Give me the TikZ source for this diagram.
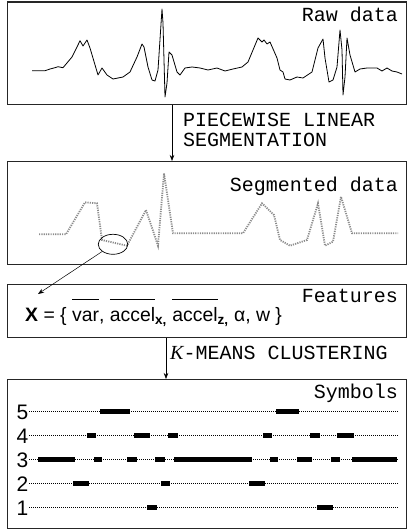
\documentclass[tikz,border=0pt]{standalone}
\usepackage{fontspec}
\setmainfont{Liberation Sans}
\newfontfamily\monofont{Liberation Mono}
\newfontfamily\kfont{Liberation Serif}
\usetikzlibrary{arrows.meta,shapes.geometric}
% averaged quantity: a bar set well above the word
\newcommand{\avgbar}[1]{$\overline{\mbox{#1}\rule{0pt}{21pt}}$}
\begin{document}
\begin{tikzpicture}[x=1pt,y=-1pt,
  panel/.style={draw=black!85,line width=1.1pt,anchor=north west,inner sep=0pt},
  conn/.style={line width=0.6pt,-{Stealth[length=6pt,width=4.5pt]}},
  caption/.style={font=\monofont\fontsize{20}{22}\selectfont,inner sep=0pt},
  level/.style={line width=0.5pt,dash pattern=on 1pt off 1pt},
  bar/.style={line width=5pt,line cap=butt},
  digit/.style={font=\fontsize{21}{22}\selectfont,inner sep=0pt,anchor=base east},
  seg/.style={draw=black!45,line width=1.8pt,dash pattern=on 1.2pt off 1.1pt}]
\useasboundingbox (0,0) rectangle (408,529);

% four panels
\node[panel,minimum width=399pt,minimum height=102.5pt] (raw) at (7,1.5) {};
\node[panel,minimum width=399pt,minimum height=103pt] (segd) at (7,161) {};
\node[panel,minimum width=399pt,minimum height=53pt] (feat) at (7,284) {};
\node[panel,minimum width=399pt,minimum height=148.5pt] (symb) at (7,379) {};

% panel titles
\node[caption,anchor=base east] (t1) at (398,21.5) {Raw data};
\node[caption,anchor=base east] (t2) at (398,191.5) {Segmented data};
\node[caption,anchor=base east] (t3) at (398,302) {Features};
\node[caption,anchor=base east] (t4) at (398,398.3) {Symbols};

% raw signal
\draw[line width=0.8pt,line join=round] plot coordinates {
 (32,70.7) (45,70.7) (50,69) (55,67.7) (58,66.7) (63,67.7) (72,57) (77,47)
 (80,40.7) (83,46) (87,40) (90,48) (98,75) (102,68) (107,75) (113,79)
 (123,77) (130,72) (137,57) (142,44) (144,47) (148,67) (152,80) (155,81)
 (158,70) (162,9) (163,23) (165,97) (167,83) (169,52) (172,55) (177,72)
 (180,75) (185,68) (192,67) (200,68) (208,70) (217,68) (225,71) (233,69)
 (242,67) (248,62) (253,50) (258,38) (262,42) (264,40) (267,44) (270,42)
 (277,58) (280,70) (283,72) (285,79) (290,80) (297,77) (303,78) (312,72)
 (318,48) (323,39) (325,58) (329,82) (333,80) (337,67) (340,30) (342,50)
 (343,95) (345,77) (347,38) (350,55) (355,72) (360,69) (367,68) (377,68)
 (382,71) (387,68) (392,71) (397,72) (402,74)};

% piecewise linear approximation
\draw[seg] plot coordinates {
 (39,234.3) (66,234.3) (85,202.3) (97,203.3) (102,240) (127,245.7)
 (146,210) (158,245.7) (164,173.3) (173,233.3) (243,233.3) (262,203.3)
 (274,215) (280,240) (290,245.7) (307,240) (318,203.3) (325,245.7)
 (333,241.7) (341,196.7) (352,233.3) (398,233.3)};

% one segment singled out
\node[draw,ellipse,line width=0.7pt,minimum width=29.5pt,minimum height=20pt,inner sep=0pt] (pick) at (113,244.3) {};
\coordinate (xtip) at (38,294);
\draw[line width=0.5pt,-{Stealth[length=6pt,width=4.5pt]}] (pick) -- (xtip);

% feature vector
\node[inner sep=0pt,anchor=base west,font=\fontsize{19.4}{21}\selectfont] (fvec) at (25,321.7)
 {{\bfseries X} = \{ \avgbar{var}, \avgbar{accel}\textsubscript{\bfseries x,}
  \avgbar{accel}\textsubscript{\bfseries z,} α, w \}};

% processing steps between panels
\coordinate (c1) at (172,0);
\coordinate (c2) at (166,0);
\draw[conn] (raw.south -| c1) -- (segd.north -| c1);
\draw[conn] (feat.south -| c2) -- (symb.north -| c2);
\node[caption,anchor=base west] (l1) at (183,126.7) {PIECEWISE LINEAR};
\node[caption,anchor=base west] (l2) at (183,146.7) {SEGMENTATION};
\node[caption,anchor=base west] (l3) at (170,359) {{\kfont\itshape K}-MEANS CLUSTERING};

% symbol levels
\foreach \n/\yy in {5/411.5,4/435.5,3/459.5,2/483.5,1/507.5}{
  \node[digit] (d\n) at (28.5,\yy+7.5) {\n};
  \draw[level] (29,\yy) -- (398,\yy);
}
% symbol occupancy bars
\foreach \a/\b in {100/130,276/299}{\draw[bar] (\a,411.5) -- (\b,411.5);}
\foreach \a/\b in {87/96,134/150,168/178,263/272,310/320,337/354}{\draw[bar] (\a,435.5) -- (\b,435.5);}
\foreach \a/\b in {38/75,94/102,127/137,155/165,174/252,270/278,297/312,331/340,352/397}{\draw[bar] (\a,459.5) -- (\b,459.5);}
\foreach \a/\b in {73/89,161/170,249/265}{\draw[bar] (\a,483.5) -- (\b,483.5);}
\foreach \a/\b in {147/157,317/333}{\draw[bar] (\a,507.5) -- (\b,507.5);}
\end{tikzpicture}
\end{document}
